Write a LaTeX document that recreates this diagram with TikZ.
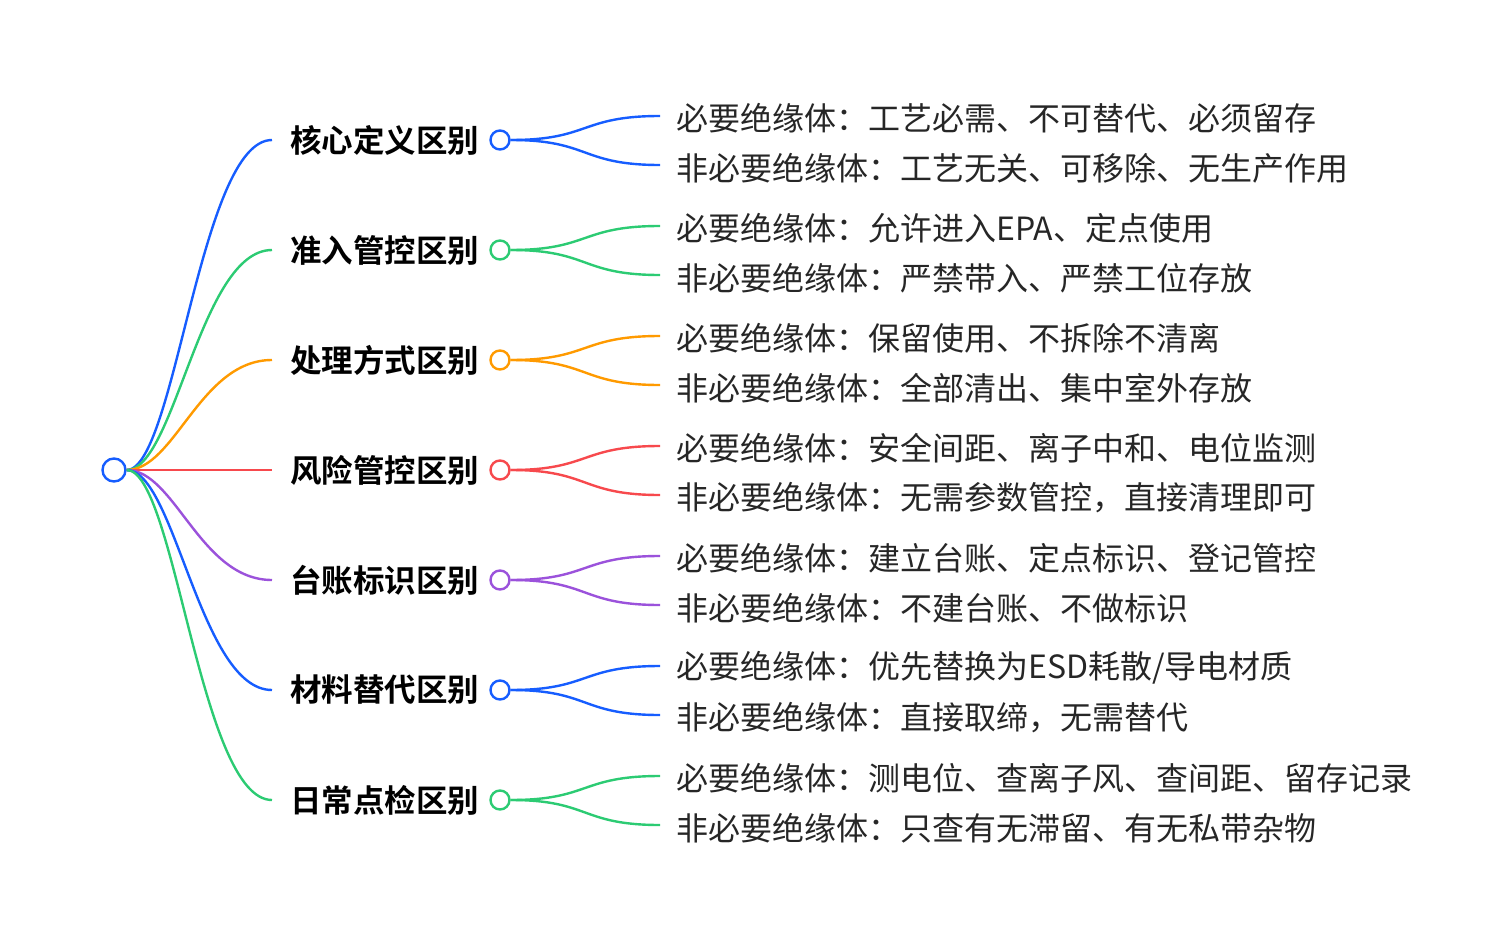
\documentclass[tikz,border=0pt]{standalone}
\usepackage{fontspec}
\setmainfont{Noto Sans CJK SC}
\newfontfamily\cjkb{Noto Sans CJK SC Bold}
\definecolor{cb}{HTML}{165DFF}
\definecolor{cg}{HTML}{2CCB73}
\definecolor{co}{HTML}{FF9A00}
\definecolor{cr}{HTML}{F7494D}
\definecolor{cp}{HTML}{9B52DB}
\tikzset{
  br/.style={line width=2.4pt},
  lab/.style={anchor=west,inner sep=0pt,font=\cjkb\fontsize{31.5pt}{32pt}\selectfont},
  leaf/.style={anchor=west,inner sep=0pt,font=\fontsize{32pt}{32pt}\selectfont,text=black!85},
  knob/.style={circle,draw,line width=2.4pt,fill=white,minimum size=19pt,inner sep=0pt}
}
\begin{document}
\begin{tikzpicture}[x=1pt,y=-1pt]
\useasboundingbox (0,0) rectangle (1510,942);
\node[knob,draw=cb,minimum size=23pt] (root) at (114,470) {};
\foreach \i/\y/\c/\t/\a/\b in {
 1/140/cb/核心定义区别/必要绝缘体：工艺必需、不可替代、必须留存/非必要绝缘体：工艺无关、可移除、无生产作用,
 2/250/cg/准入管控区别/必要绝缘体：允许进入EPA、定点使用/非必要绝缘体：严禁带入、严禁工位存放,
 3/360/co/处理方式区别/必要绝缘体：保留使用、不拆除不清离/非必要绝缘体：全部清出、集中室外存放,
 4/470/cr/风险管控区别/必要绝缘体：安全间距、离子中和、电位监测/非必要绝缘体：无需参数管控，直接清理即可,
 5/580/cp/台账标识区别/必要绝缘体：建立台账、定点标识、登记管控/非必要绝缘体：不建台账、不做标识,
 6/690/cb/材料替代区别/{必要绝缘体：优先替换为ESD耗散/导电材质}/非必要绝缘体：直接取缔，无需替代,
 7/800/cg/日常点检区别/必要绝缘体：测电位、查离子风、查间距、留存记录/非必要绝缘体：只查有无滞留、有无私带杂物}{
  \coordinate (s\i) at (272,\y);
  \draw[br,\c] (root) .. controls (175,470) and (200,\y) .. (s\i);
  \node[lab] (l\i) at (290,\y) {\t};
  \node[knob,draw=\c] (k\i) at (500,\y) {};
  \coordinate (e\i a) at (660,\y-24);
  \coordinate (e\i b) at (660,\y+25);
  \draw[br,\c] (k\i.east) .. controls (590,\y) and (580,\y-24) .. (e\i a);
  \draw[br,\c] (k\i.east) .. controls (590,\y) and (580,\y+25) .. (e\i b);
  \node[leaf] (a\i) at (676,\y-22) {\a};
  \node[leaf] (b\i) at (676,\y+28) {\b};
}
\end{tikzpicture}
\end{document}
